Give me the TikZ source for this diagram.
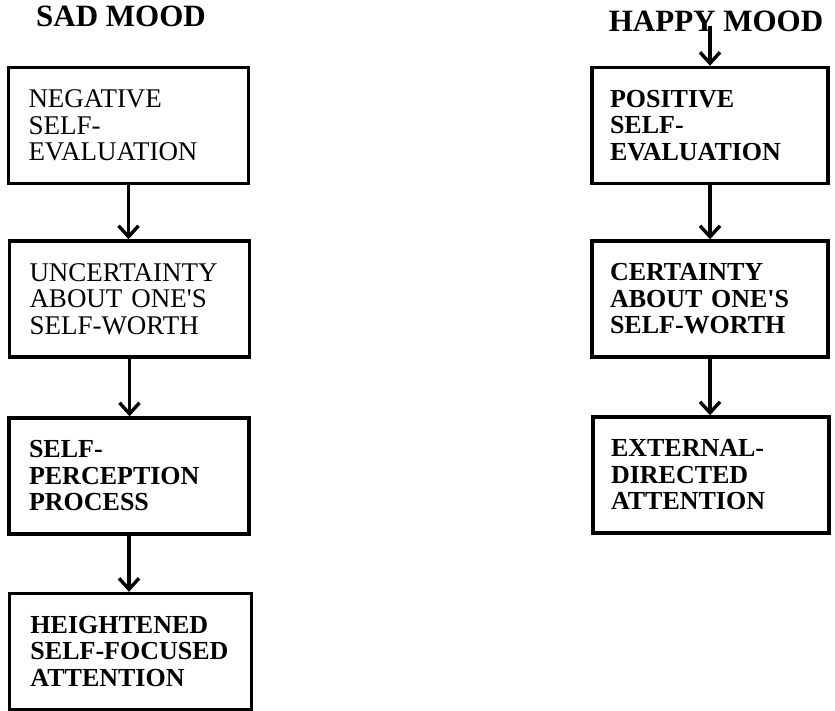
\documentclass[tikz,border=0pt]{standalone}
\usepackage{fontspec}
\setmainfont{Liberation Serif}
\usetikzlibrary{arrows.meta,positioning}

\begin{document}
\begin{tikzpicture}[x=1pt,y=1pt]
\tikzset{
  moodtitle/.style={anchor=base,inner sep=0pt,font=\fontsize{31}{31}\selectfont\bfseries},
  moodbox/.style={draw=black,line width=3.4pt,minimum height=116pt,text width=200pt,
    inner xsep=20pt,inner ysep=4pt,align=left,font=\fontsize{27}{26.5}\selectfont},
  boldbox/.style={moodbox,font=\fontsize{26}{26.5}\selectfont\bfseries},
  flow/.style={draw=black,line width=3.4pt,-{Straight Barb[length=11pt,width=20pt,line width=3.4pt]}}
}
\useasboundingbox (0,0) rectangle (835,-711);
% sad side
\node[moodtitle] (n_sad) at (121,-27) {SAD MOOD};
\node[moodbox] (n_neg) at (128.5,-125.5) {NEGATIVE\\SELF-\\EVALUATION};
\node[moodbox] (n_unc) at (129.5,-299) {UNCERTAINTY\\ABOUT ONE\textquotesingle S\\SELF-WORTH};
\node[boldbox] (n_spp) at (129,-476) {SELF-\\PERCEPTION\\PROCESS};
\node[boldbox,inner xsep=21pt] (n_hsf) at (130.5,-651.5) {HEIGHTENED\\\mbox{SELF-FOCUSED}\\ATTENTION};
% happy side
\node[moodtitle] (n_happy) at (716,-32) {HAPPY MOOD};
\node[boldbox,inner xsep=18pt] (n_pos) at (710,-125.5) {POSITIVE\\SELF-\\EVALUATION};
\node[boldbox,inner xsep=18pt] (n_cer) at (710,-299) {CERTAINTY\\ABOUT ONE\textquotesingle S\\SELF-WORTH};
\node[boldbox,inner xsep=18pt] (n_ext) at (711,-475) {EXTERNAL-\\DIRECTED\\ATTENTION};
\draw[flow] (n_neg.south) -- (n_neg.south |- n_unc.north);
\draw[flow] (n_unc.south) -- (n_unc.south |- n_spp.north);
\draw[flow] (n_spp.south) -- (n_spp.south |- n_hsf.north);
\draw[flow] ([yshift=6pt]n_pos.north |- n_happy.base) -- (n_pos.north);
\draw[flow] (n_pos.south) -- (n_pos.south |- n_cer.north);
\draw[flow] (n_cer.south) -- (n_cer.south |- n_ext.north);
\end{tikzpicture}
\end{document}
